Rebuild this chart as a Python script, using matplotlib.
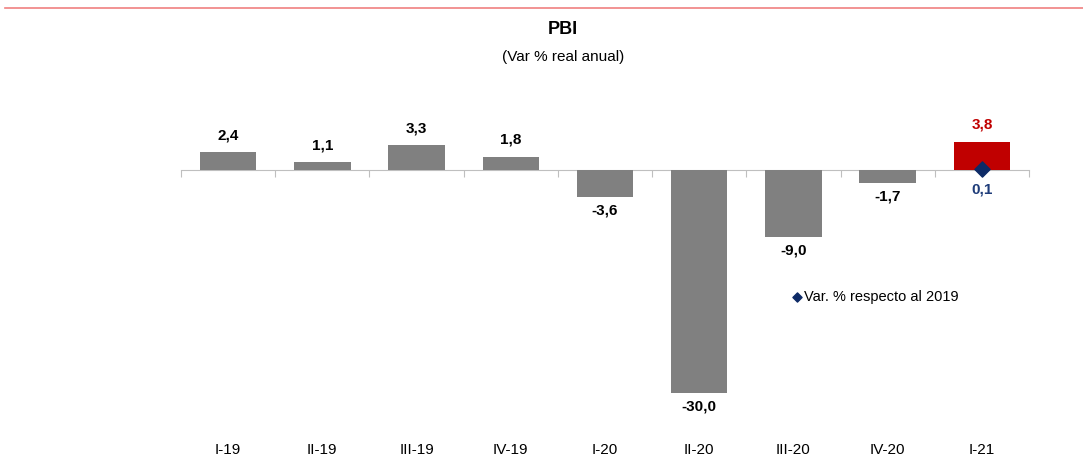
import matplotlib
matplotlib.use("Agg")
import matplotlib.pyplot as plt
from matplotlib.lines import Line2D
import numpy as np

quarters = ["I-19", "II-19", "III-19", "IV-19", "I-20", "II-20", "III-20", "IV-20", "I-21"]
var_anual = [2.4, 1.1, 3.3, 1.8, -3.6, -30.0, -9.0, -1.7, 3.8]
var_2019_quarter = "I-21"
var_2019 = 0.1

plt.rcParams["font.family"] = ["Liberation Sans", "DejaVu Sans"]

fig = plt.figure(figsize=(10.83, 4.61), dpi=100)
ax = fig.add_axes([181 / 1083, 1 - 415 / 461, (1029 - 181) / 1083, (415 - 110.5) / 461])

x = np.arange(len(quarters))
colors = ["#808080"] * (len(quarters) - 1) + ["#c00000"]
ax.bar(x, var_anual, width=0.6, color=colors, zorder=2)

# diamond for Var. % respecto al 2019
xi = quarters.index(var_2019_quarter)
ax.scatter([xi], [var_2019], marker="D", s=60, color="#0d2a66", zorder=3,
           label="Var. % respecto al 2019")

fmt = lambda v: f"{v:.1f}".replace(".", ",")
for i, v in enumerate(var_anual):
    col = "#c00000" if i == len(quarters) - 1 else "black"
    if v >= 0:
        ax.annotate(fmt(v), (i, v), xytext=(0, 7), textcoords="offset points",
                    ha="center", va="bottom", fontsize=11, fontweight="bold", color=col)
    else:
        ax.annotate(fmt(v), (i, v), xytext=(0, -5), textcoords="offset points",
                    ha="center", va="top", fontsize=11, fontweight="bold", color=col)
ax.annotate(fmt(var_2019), (xi, 0), xytext=(0, -9), textcoords="offset points",
            ha="center", va="top", fontsize=11, fontweight="bold", color="#1f3d7a")

ax.set_xlim(-0.5, len(quarters) - 0.5)
ax.set_ylim(-33, 8)

# zero line with boundary ticks
for s in ["top", "right", "left"]:
    ax.spines[s].set_visible(False)
ax.spines["bottom"].set_position(("data", 0))
ax.spines["bottom"].set_color("#bfbfbf")
ax.spines["bottom"].set_zorder(1)
ax.set_xticks(np.arange(len(quarters) + 1) - 0.5)
ax.set_xticklabels([])
ax.tick_params(axis="x", length=5, color="#bfbfbf", direction="out")
ax.set_yticks([])

for i, q in enumerate(quarters):
    ax.text(i, -0.115, q, transform=ax.get_xaxis_transform(), ha="center", va="center",
            fontsize=11)

ax.legend(loc="center left", bbox_to_anchor=(779 / 1083, 1 - 297 / 461),
          bbox_transform=fig.transFigure, frameon=False, handlelength=0.6,
          handletextpad=0.2, markerscale=0.6, fontsize=10.5)

fig.text(563 / 1083, 1 - 30 / 461, "PBI", ha="center", va="center",
         fontsize=13, fontweight="bold")
fig.text(563 / 1083, 1 - 57 / 461, "(Var % real anual)", ha="center", va="center",
         fontsize=11)
fig.add_artist(Line2D([0.005, 1.0], [1 - 8 / 461, 1 - 8 / 461], color="#f08080",
                      linewidth=1.2, transform=fig.transFigure))

fig.savefig("out.png", dpi=100)
